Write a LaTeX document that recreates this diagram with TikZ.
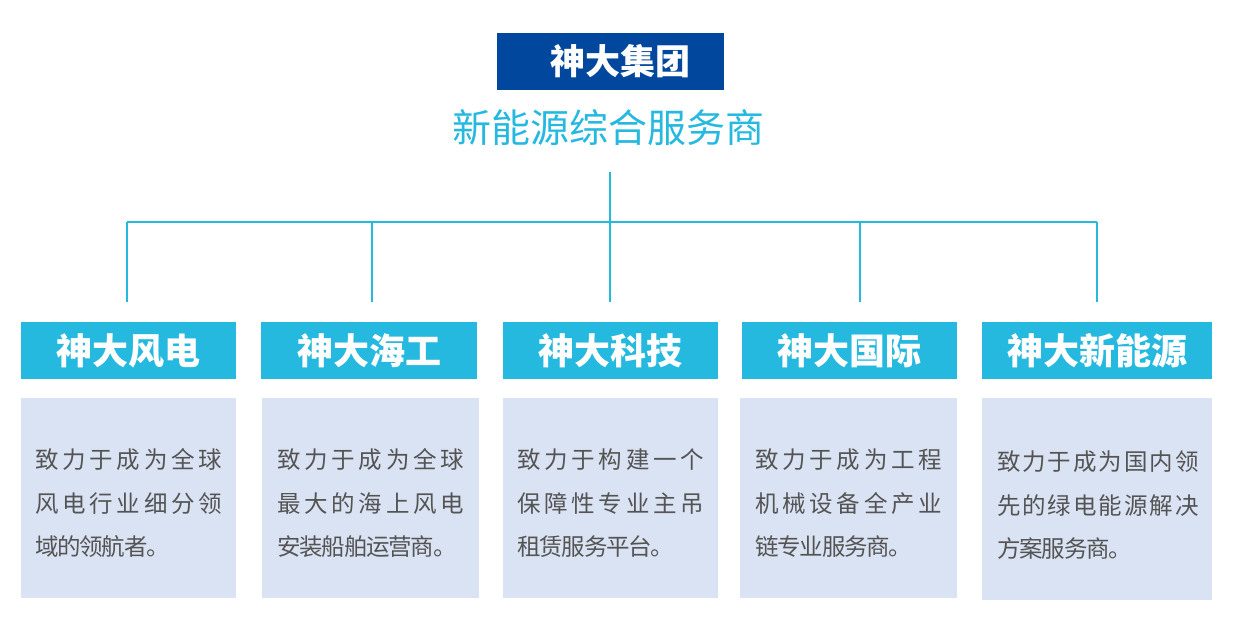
\documentclass[tikz,border=0pt]{standalone}
\usepackage{fontspec}
\usepackage{tikz}
\usetikzlibrary{positioning}
\newfontfamily\cjk{Noto Sans CJK SC}
\newfontfamily\cjkwide{Noto Sans CJK SC}[LetterSpace=16]
\newfontfamily\cjkmid{Noto Sans CJK SC}[LetterSpace=8.5]
\newfontfamily\cjktight{Noto Sans CJK SC}[LetterSpace=-5]

\definecolor{groupblue}{RGB}{0,71,157}
\definecolor{brandcyan}{RGB}{38,185,224}
\definecolor{panelgray}{RGB}{218,227,243}
\definecolor{bodytext}{RGB}{84,84,84}

\tikzstyle{groupbox} = [rectangle, fill=groupblue, text=white, minimum width=227pt,
                        minimum height=57pt, inner sep=0pt, font=\cjk\bfseries\fontsize{35}{35}\selectfont]
\tikzstyle{slogan}   = [text=brandcyan, inner sep=0pt, font=\cjk\fontsize{39}{39}\selectfont]
\tikzstyle{unit}     = [rectangle, fill=brandcyan, text=white, minimum height=57pt,
                        inner sep=0pt, font=\cjk\bfseries\fontsize{36}{36}\selectfont]
\tikzstyle{panel}    = [rectangle, fill=panelgray, minimum height=200pt, inner sep=0pt]
\tikzstyle{blurb}    = [anchor=west, align=left, inner sep=0pt, text=bodytext,
                        font=\cjk\fontsize{23.5}{43.5}\selectfont]
\tikzstyle{link}     = [draw=brandcyan, line width=2.6pt]

\begin{document}
\begin{tikzpicture}[x=1pt, y=-1pt]
  \useasboundingbox (0,0) rectangle (1233,628);

  % --- Group header ---
  \node[groupbox] (group) at (610.5,61.5) {\hspace*{20pt}神大集团};
  \node[slogan] (tagline) at (608,128) {新能源综合服务商};

  % --- Subsidiaries ---
  \node[unit, minimum width=215pt] (f1) at (128.5,350.5) {神大风电};
  \node[unit, minimum width=216pt] (f2) at (369,350.5)   {神大海工};
  \node[unit, minimum width=215pt] (f3) at (610.5,350.5) {神大科技};
  \node[unit, minimum width=215pt] (f4) at (849.5,350.5) {神大国际};
  \node[unit, minimum width=230pt] (f5) at (1097,350.5)  {神大新能源};

  % Panels
  \node[panel, minimum width=215pt] (p1) at (128.5,498) {};
  \node[panel, minimum width=217pt] (p2) at (370.5,498) {};
  \node[panel, minimum width=215pt] (p3) at (610.5,498) {};
  \node[panel, minimum width=217pt] (p4) at (848.5,498) {};
  \node[panel, minimum width=230pt, minimum height=202pt] (p5) at (1097,499) {};

  \node[blurb] (t1) at ([xshift=14pt,yshift=-5.5pt]p1.west)
    {{\cjkwide 致力于成为全球}\\{\cjkwide 风电行业细分领}\\{\cjktight 域的领航者。}};
  \node[blurb] (t2) at ([xshift=15pt,yshift=-5.5pt]p2.west)
    {{\cjkwide 致力于成为全球}\\{\cjkwide 最大的海上风电}\\{\cjktight 安装船舶运营商。}};
  \node[blurb] (t3) at ([xshift=14pt,yshift=-5.5pt]p3.west)
    {{\cjkwide 致力于构建一个}\\{\cjkwide 保障性专业主吊}\\{\cjktight 租赁服务平台。}};
  \node[blurb] (t4) at ([xshift=15pt,yshift=-5.5pt]p4.west)
    {{\cjkwide 致力于成为工程}\\{\cjkwide 机械设备全产业}\\{\cjktight 链专业服务商。}};
  \node[blurb] (t5) at ([xshift=15pt,yshift=-6.5pt]p5.west)
    {{\cjkmid 致力于成为国内领}\\{\cjkmid 先的绿电能源解决}\\{\cjktight 方案服务商。}};

  % Connections
  \coordinate (trunk) at (610,172);
  \coordinate (bus) at (610,222);
  \draw[link] (trunk) -- (bus);
  \draw[link] ([xshift=-1.5pt]f1.north |- bus) -- (f5.north |- bus);
  \foreach \n/\dx in {f1/-1.5, f2/3, f3/-0.5, f4/10.5, f5/0}
    \draw[link] ([xshift=\dx pt]\n.north |- bus) -- ([xshift=\dx pt, yshift=20pt]\n.north);
\end{tikzpicture}
\end{document}
